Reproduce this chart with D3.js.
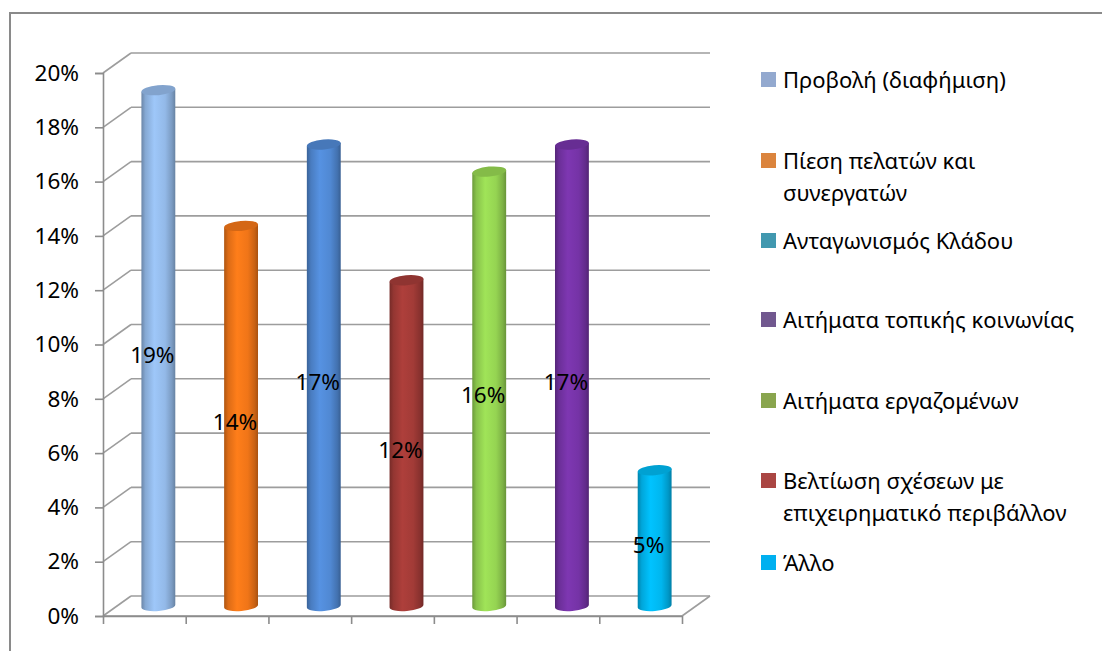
<!DOCTYPE html>
<html>
<head>
<meta charset="utf-8">
<script src="https://cdn.jsdelivr.net/npm/d3@7"></script>
<style>
  body { margin: 0; background: #fff; }
  text { font-family: "Noto Sans", "DejaVu Sans", sans-serif; fill: #000; }
</style>
</head>
<body>
<svg id="chart"></svg>
<script>
var width = 1103,
    height = 651;

// bars, in drawing order
var barNames = ["Προβολή (διαφήμιση)", "Πίεση πελατών και συνεργατών", "Ανταγωνισμός Κλάδου",
                "Βελτίωση σχέσεων με επιχειρηματικό περιβάλλον", "Αιτήματα εργαζομένων",
                "Αιτήματα τοπικής κοινωνίας", "Άλλο"];
var barValues = [0.19, 0.14, 0.17, 0.12, 0.16, 0.17, 0.05];
var barColors = ["#93b9e8", "#f07518", "#5088d2", "#a23b37", "#95d452", "#7533a6", "#00b6ee"];

// legend, as it is listed on the right
var legendLines = [["Προβολή (διαφήμιση)"], ["Πίεση πελατών και", "συνεργατών"], ["Ανταγωνισμός Κλάδου"],
                   ["Αιτήματα τοπικής κοινωνίας"], ["Αιτήματα εργαζομένων"],
                   ["Βελτίωση σχέσεων με", "επιχειρηματικό περιβάλλον"], ["Άλλο"]];
var legendColors = ["#93a9cf", "#db843d", "#4198af", "#71588f", "#89a54e", "#aa4643", "#00b0f0"];
var yTicks = [0, 0.02, 0.04, 0.06, 0.08, 0.10, 0.12, 0.14, 0.16, 0.18, 0.20];

var svg = d3.select("#chart")
    .attr("width", width)
    .attr("height", height);

// outer frame (only top and left show)
svg.append("path")
    .attr("d", "M10,651 L10,13 L1102,13")
    .attr("fill", "none")
    .attr("stroke", "#8a8a8a")
    .attr("stroke-width", 2);

var plot = {left: 103, right: 682, top: 73, bottom: 616};
var depth = {dx: 28, dy: -20};

var y = d3.scaleLinear().domain([0, 0.20]).range([plot.bottom, plot.top]);
var x = d3.scaleBand().domain(d3.range(barValues.length)).range([plot.left, plot.right]);
var xEdge = d3.scaleLinear().domain([0, barValues.length]).range([plot.left, plot.right]);

var gridColor = "#9d9d9d";
var grid = svg.append("g");

// side wall diagonals
grid.selectAll("line.side")
    .data(yTicks)
    .enter().append("line")
    .attr("class", "side")
    .attr("x1", plot.left).attr("y1", function(d) { return y(d); })
    .attr("x2", plot.left + depth.dx).attr("y2", function(d) { return y(d) + depth.dy; })
    .attr("stroke", gridColor).attr("stroke-width", 1.6);

// back wall gridlines
grid.selectAll("line.back")
    .data(yTicks)
    .enter().append("line")
    .attr("class", "back")
    .attr("x1", plot.left + depth.dx).attr("y1", function(d) { return y(d) + depth.dy; })
    .attr("x2", plot.right + depth.dx).attr("y2", function(d) { return y(d) + depth.dy; })
    .attr("stroke", gridColor).attr("stroke-width", 1.6);

// floor right edge
grid.append("line")
    .attr("x1", plot.right).attr("y1", y(0))
    .attr("x2", plot.right + depth.dx).attr("y2", y(0) + depth.dy)
    .attr("stroke", gridColor).attr("stroke-width", 1.6);

// axes
var yAxisGroup = svg.append("g")
    .attr("transform", "translate(" + plot.left + ",0)")
    .call(d3.axisLeft(y).tickValues(yTicks).tickFormat(d3.format(".0%")).tickSize(8).tickPadding(16));

var xAxisGroup = svg.append("g")
    .attr("transform", "translate(0," + plot.bottom + ")")
    .call(d3.axisBottom(xEdge).tickValues(d3.range(0, barValues.length + 1)).tickFormat("").tickSize(8).tickSizeOuter(0));

svg.selectAll(".domain, .tick line")
    .attr("stroke", "#8c8c8c")
    .attr("stroke-width", 1.6);
yAxisGroup.selectAll("text")
    .style("font-size", "22.5px")
    .attr("fill", "#000");

// cylinders
var defs = svg.append("defs");
barColors.forEach(function(c, i) {
    var base = d3.color(c);
    var g = defs.append("linearGradient")
        .attr("id", "cyl" + i)
        .attr("x1", 0).attr("x2", 1).attr("y1", 0).attr("y2", 0);
    var stops = [[0, base.darker(0.9)], [0.12, base.darker(0.25)], [0.38, base.brighter(0.2)],
                 [0.7, base], [0.9, base.darker(0.5)], [1, base.darker(1.0)]];
    stops.forEach(function(s) {
        g.append("stop").attr("offset", s[0]).attr("stop-color", s[1].formatHex());
    });
});

var rx = 17, ry = 5, tilt = -5;
var tc = rx * Math.cos(tilt * Math.PI / 180),
    ts = rx * Math.sin(tilt * Math.PI / 180);

function cx(i) { return x(i) + x.bandwidth() / 2 + depth.dx / 2; }
function yMid(v) { return y(v) + depth.dy / 2; }

var bars = svg.append("g").selectAll("g")
    .data(barValues)
    .enter().append("g");

bars.append("path")
    .attr("d", function(d, i) {
        var c = cx(i), yt = yMid(d), yb = yMid(0);
        return "M" + (c - tc) + "," + (yt - ts) +
               " L" + (c - tc) + "," + (yb - ts) +
               " A" + rx + "," + ry + " " + tilt + " 0 0 " + (c + tc) + "," + (yb + ts) +
               " L" + (c + tc) + "," + (yt + ts) + " Z";
    })
    .attr("fill", function(d, i) { return "url(#cyl" + i + ")"; });

bars.append("ellipse")
    .attr("cx", 0).attr("cy", 0)
    .attr("rx", rx).attr("ry", ry)
    .attr("transform", function(d, i) {
        return "translate(" + cx(i) + "," + yMid(d) + ") rotate(" + tilt + ")";
    })
    .attr("fill", function(d, i) { return d3.color(barColors[i]).darker(0.35).formatHex(); });

bars.append("text")
    .attr("x", function(d, i) { return cx(i) - 6; })
    .attr("y", function(d) { return (yMid(d) + yMid(0)) / 2 + 6; })
    .attr("text-anchor", "middle")
    .attr("dominant-baseline", "central")
    .style("font-size", "22.5px")
    .text(function(d) { return Math.round(d * 100) + "%"; });

// front floor edge on top of bar bottoms
svg.append("line")
    .attr("x1", plot.left).attr("y1", plot.bottom)
    .attr("x2", plot.right).attr("y2", plot.bottom)
    .attr("stroke", "#8c8c8c").attr("stroke-width", 1.6);

// legend
var legendY = [79, 160, 240, 319, 400, 480, 562];
var legend = svg.append("g").selectAll("g")
    .data(legendLines)
    .enter().append("g")
    .attr("transform", function(d, i) { return "translate(761," + legendY[i] + ")"; });

legend.append("rect")
    .attr("x", 0).attr("y", -7)
    .attr("width", 15).attr("height", 15)
    .attr("fill", function(d, i) { return legendColors[i]; });

legend.append("text")
    .attr("x", 22)
    .attr("dominant-baseline", "central")
    .style("font-size", "22px")
    .selectAll("tspan")
    .data(function(d) { return d; })
    .enter().append("tspan")
    .attr("x", 22)
    .attr("y", function(d, j) { return j * 32; })
    .text(function(d) { return d; });
</script>
</body>
</html>
